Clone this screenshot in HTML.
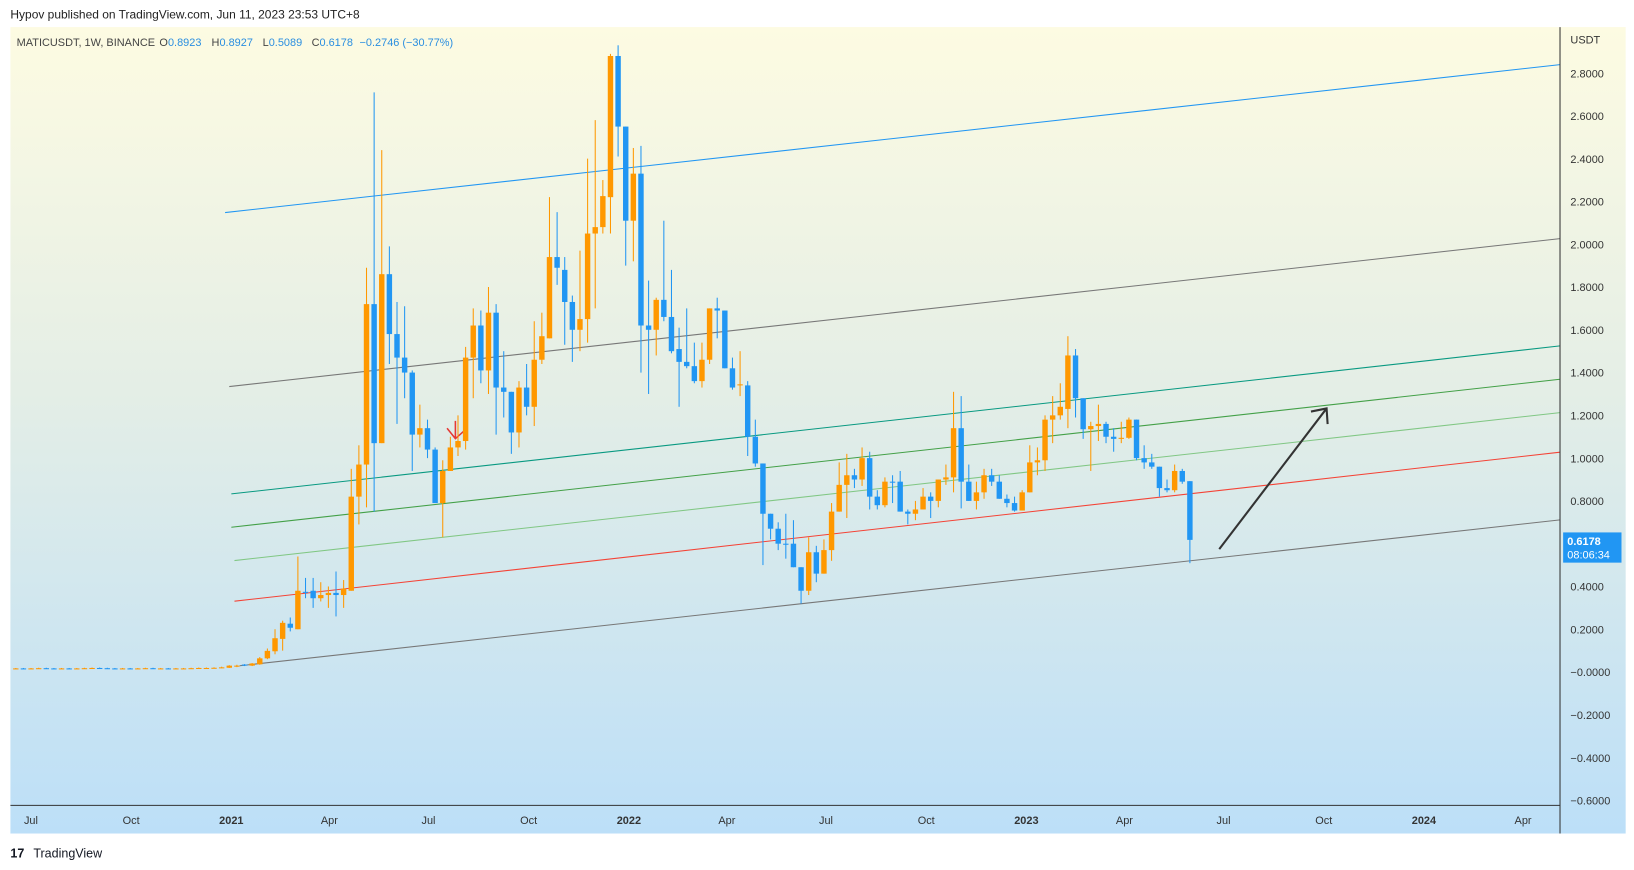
<!DOCTYPE html>
<html><head><meta charset="utf-8"><style>
html,body{margin:0;padding:0;background:#fff;width:1634px;height:870px;overflow:hidden}
svg{display:block}
text{font-family:"Liberation Sans",sans-serif}
</style></head><body>
<svg id="chart" width="1634" height="870" viewBox="0 0 1568 835" preserveAspectRatio="none" xmlns="http://www.w3.org/2000/svg">
<defs>
<linearGradient id="bg" x1="0" y1="0" x2="0" y2="1">
<stop offset="0" stop-color="#fdfbe2"/>
<stop offset="0.45" stop-color="#e4eee6"/>
<stop offset="1" stop-color="#bcdff8"/>
</linearGradient>
</defs>
<text x="10" y="18" font-size="11.5" fill="#222">Hypov published on TradingView.com, Jun 11, 2023 23:53 UTC+8</text>
<rect x="10" y="26" width="1550" height="774" fill="url(#bg)"/>
<g font-size="10.5">
<text x="16" y="44" fill="#444">MATICUSDT, 1W, BINANCE</text>
<text x="153" y="44" fill="#444">O<tspan fill="#2a8ee0">0.8923</tspan></text>
<text x="203" y="44" fill="#444">H<tspan fill="#2a8ee0">0.8927</tspan></text>
<text x="252" y="44" fill="#444">L<tspan fill="#2a8ee0">0.5089</tspan></text>
<text x="299" y="44" fill="#444">C<tspan fill="#2a8ee0">0.6178</tspan></text>
<text x="345" y="44" fill="#2a8ee0">−0.2746 (−30.77%)</text>
</g>
<g id="drawings"></g>
<g id="candles"></g>
<line x1="1497" y1="26" x2="1497" y2="800" stroke="#333" stroke-width="1"/>
<line x1="10" y1="773" x2="1497" y2="773" stroke="#333" stroke-width="1"/>
<text x="1507" y="42" font-size="10.5" fill="#333">USDT</text>
<g id="yaxis"></g>
<g id="xaxis"></g>
<rect x="1500" y="511" width="56" height="29" fill="#2196f3"/>
<text x="1504" y="523" font-size="10.5" font-weight="bold" fill="#fff">0.6178</text>
<text x="1504" y="536" font-size="10.5" fill="#fff">08:06:34</text>
<text x="10" y="823" font-size="12" font-weight="bold" fill="#131722">17</text>
<text x="32" y="823" font-size="12" fill="#131722">TradingView</text>
</svg>
<script>
const opens=[.016,.017,.016,.017,.018,.017,.016,.017,.016,.017,.018,.019,.018,.017,.016,.017,.016,.017,.018,.017,.017,.016,.017,.017,.018,.019,.019,
.02,.02,.025,.035,.03,.036,.064,.097,.155,.226,.20,.375,.38,.345,.36,.37,.36,.38,.82,.97,1.72,1.07,1.86,1.58,1.47,1.40,1.11,1.14,1.04,.79,.94,1.05,1.08,1.47,1.62,1.41,1.68,1.33,1.31,1.12,1.33,1.24,1.46,1.56,1.94,1.88,1.73,1.60,1.65,2.05,2.08,
2.22,2.88,2.55,2.11,2.33,1.62,1.60,1.74,1.66,1.51,1.45,1.43,1.36,1.46,1.70,1.69,1.42,1.34,1.34,1.10,.975,.74,.67,.60,.60,.49,.38,.56,.46,.57,.75,.875,.92,.90,1.0,.82,.78,.89,.89,.75,.74,.76,.82,.80,.90,.91,1.14,.89,.80,.84,.92,.89,.81,.79,.755,.84,.98,.99,1.18,1.20,1.23,1.48,1.28,1.135,1.15,1.16,1.10,1.09,1.095,1.18,1.00,.98,.96,.86,.85,.94,.8923];
const closes=[.017,.016,.017,.018,.017,.016,.017,.016,.017,.018,.019,.018,.017,.016,.017,.016,.017,.018,.017,.017,.016,.017,.017,.018,.019,.019,.02,
.022,.03,.03,.03,.04,.064,.099,.158,.23,.207,.38,.37,.345,.36,.37,.36,.39,.82,.97,1.72,1.07,1.86,1.58,1.47,1.40,1.11,1.14,1.04,.79,.94,1.05,1.08,1.47,1.62,1.41,1.68,1.33,1.31,1.12,1.33,1.24,1.46,1.57,1.94,1.89,1.73,1.60,1.65,2.05,2.08,2.225,
2.88,2.55,2.11,2.33,1.62,1.60,1.74,1.66,1.50,1.45,1.43,1.36,1.46,1.70,1.69,1.42,1.33,1.345,1.10,.975,.74,.67,.60,.598,.49,.38,.56,.46,.57,.75,.875,.92,.90,1.0,.82,.78,.89,.888,.75,.74,.76,.82,.80,.90,.91,1.14,.89,.80,.84,.92,.89,.81,.79,.755,.84,.98,.99,1.18,1.20,1.24,1.48,1.28,1.135,1.15,1.16,1.10,1.09,1.095,1.18,1.00,.98,.96,.86,.85,.94,.89,.6178];
const highs=[.019,.019,.019,.02,.02,.019,.019,.019,.019,.02,.021,.021,.02,.019,.019,.019,.019,.02,.02,.019,.019,.019,.019,.02,.021,.021,.022,
.025,.032,.034,.037,.042,.07,.11,.20,.24,.255,.54,.44,.44,.42,.40,.47,.43,.95,1.06,1.89,2.71,2.44,1.99,1.73,1.71,1.41,1.25,1.18,1.05,.99,1.10,1.20,1.52,1.70,1.69,1.80,1.72,1.50,1.31,1.36,1.44,1.64,1.68,2.22,2.15,1.94,1.76,1.97,2.40,2.58,2.30,
2.89,2.93,2.55,2.45,2.46,1.83,1.75,2.11,1.88,1.61,1.70,1.54,1.54,1.70,1.75,1.69,1.47,1.50,1.36,1.18,.975,.74,.70,.74,.71,.49,.63,.59,.62,.79,.98,1.02,.95,1.05,1.03,.85,.91,.92,.94,.76,.80,.86,.84,.90,.97,1.31,1.29,.97,.89,.95,.95,.92,.83,.82,.85,1.06,1.05,1.20,1.29,1.35,1.57,1.51,1.28,1.17,1.25,1.17,1.14,1.17,1.19,1.18,1.06,1.02,.96,.90,.97,.95,.8927];
const lows=[.014,.015,.014,.015,.015,.014,.014,.015,.014,.015,.016,.016,.016,.015,.014,.015,.014,.015,.016,.015,.015,.014,.015,.015,.016,.017,.017,
.018,.019,.023,.028,.028,.034,.06,.083,.10,.19,.20,.345,.30,.33,.30,.26,.30,.38,.69,.77,.75,1.07,1.44,1.16,1.28,.94,1.05,1.0,.79,.63,.94,1.01,1.04,1.28,1.35,1.30,1.11,1.19,1.02,1.05,1.20,1.15,1.44,1.56,1.81,1.53,1.45,1.50,1.54,1.70,2.05,
2.05,2.41,1.90,1.92,1.40,1.30,1.48,1.64,1.49,1.24,1.42,1.35,1.33,1.44,1.56,1.42,1.32,1.29,1.01,.96,.50,.62,.57,.53,.49,.32,.36,.42,.46,.52,.75,.72,.86,.87,.76,.76,.77,.79,.75,.69,.71,.76,.72,.77,.875,.84,.765,.80,.76,.81,.87,.81,.77,.75,.755,.84,.92,.94,1.07,1.18,1.14,1.19,1.09,.94,1.08,1.07,1.03,1.07,1.09,.99,.95,.95,.82,.84,.84,.88,.5089];
const yTicks=[2.8,2.6,2.4,2.2,2.0,1.8,1.6,1.4,1.2,1.0,0.8,0.4,0.2,0,-0.2,-0.4,-0.6];
const yTickLabels=["2.8000","2.6000","2.4000","2.2000","2.0000","1.8000","1.6000","1.4000","1.2000","1.0000","0.8000","0.4000","0.2000","−0.0000","−0.2000","−0.4000","−0.6000"];
const xTickLabels=["Jul","Oct","2021","Apr","Jul","Oct","2022","Apr","Jul","Oct","2023","Apr","Jul","Oct","2024","Apr"];
const xTickDays=[-184,-92,0,90,181,273,365,455,546,638,730,820,911,1003,1095,1186];

const NS="http://www.w3.org/2000/svg";
function y(p){return 645-p*205.3;}
function xIdx(i){return 212.7+(i-27)*7.316;}
function xDay(d){return 221+d/7*7.316;}
function mk(tag,attrs,parent){const e=document.createElementNS(NS,tag);for(const k in attrs)e.setAttribute(k,attrs[k]);parent.appendChild(e);return e;}

const cg=document.getElementById('candles');
for(let i=0;i<opens.length;i++){
  const up=closes[i]>=opens[i];
  const col=up?'#ff9800':'#2196f3';
  const x=xIdx(i);
  const w=mk('line',{x1:x,x2:x,y1:y(highs[i]),y2:y(lows[i]),stroke:col,'stroke-width':1},cg);
  
  
  const top=y(Math.max(opens[i],closes[i])),bot=y(Math.min(opens[i],closes[i]));
  const b=mk('rect',{x:x-2.6,y:top,width:5.2,height:Math.max(1,bot-top),fill:col},cg);
  
  
}

const yg=document.getElementById('yaxis');
yTicks.forEach((t,k)=>{
  const e=mk('text',{x:1507,y:y(t)+4,'font-size':10.5,fill:'#333'},yg);
  e.textContent=yTickLabels[k];
  
  
});
const xg=document.getElementById('xaxis');
xTickLabels.forEach((t,k)=>{
  const bold=/^\d/.test(t);
  const e=mk('text',{x:xDay(xTickDays[k])+1,y:791,'font-size':10.5,fill:'#333','text-anchor':'middle','font-weight':bold?'bold':'normal'},xg);
  e.textContent=t;
  
  
});

const dg=document.getElementById('drawings');
const trendLines=[
 ['channel-top-line',216,204,1497,62,'#2196f3'],
 ['upper-gray-line',220,371,1497,229,'#777'],
 ['teal-line',222,474,1497,332,'#089981'],
 ['green-line',222,506,1497,364,'#43a047'],
 ['light-green-line',225,538,1497,396,'#81c784'],
 ['red-line',225,577,1497,434,'#f44336'],
 ['lower-gray-line',230,639,1497,499,'#777']];
trendLines.forEach(l=>{
  const e=mk('line',{x1:l[1],y1:l[2],x2:l[3],y2:l[4],stroke:l[5],'stroke-width':1},dg);
  
  
});
const ar=mk('path',{d:'M1170 527 L1273 392 M1258 395 L1273 392 L1274 407',stroke:'#333','stroke-width':2,fill:'none'},dg);


const ra=mk('path',{d:'M429 411 L437 421 L446 413 M437 404 L437 421',stroke:'#e53935','stroke-width':1.5,fill:'none'},dg);


</script>
</body></html>
